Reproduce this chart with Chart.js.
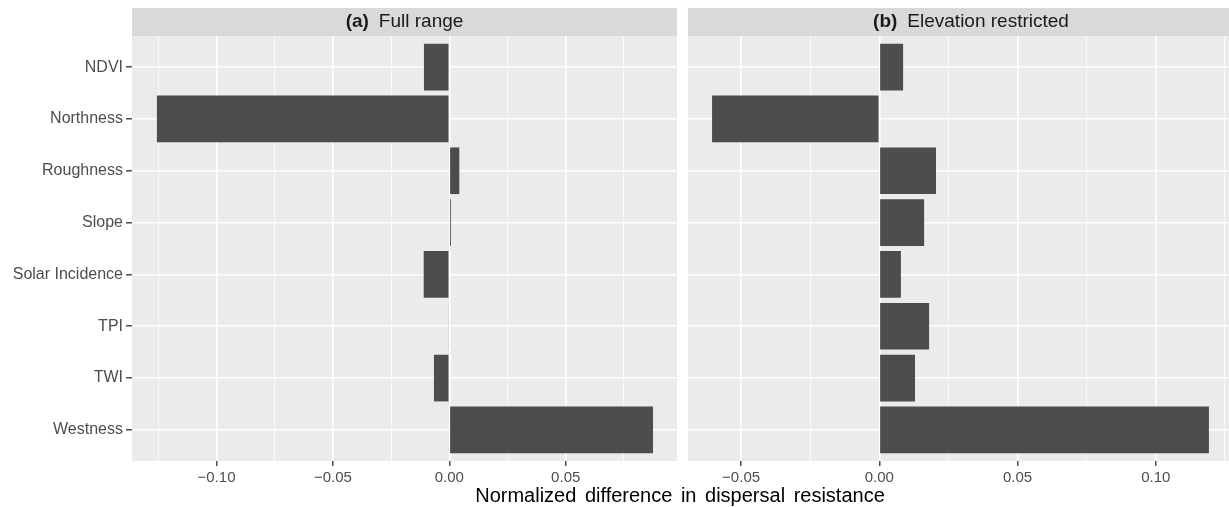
<!DOCTYPE html>
<html>
<head>
<meta charset="utf-8">
<script src="https://cdn.jsdelivr.net/npm/chart.js@4.4.0/dist/chart.umd.min.js"></script>
<style>
  html, body { margin: 0; padding: 0; background: #fff; overflow: hidden; }
  #wrap { position: relative; width: 1229px; height: 507px; overflow: hidden; }
  canvas { position: absolute; top: 0; }
  #xtitle {
    position: absolute; left: 0; width: 1360px; top: 484px; text-align: center;
    font: 20px "Liberation Sans", Arial, sans-serif; color: #000; word-spacing: 3px;
  }
</style>
</head>
<body>
<div id="wrap">
  <canvas id="left" width="680" height="507" style="left:0"></canvas>
  <canvas id="right" width="580" height="507" style="left:680px"></canvas>
  <div id="xtitle">Normalized difference in dispersal resistance</div>
</div>
<script>
// categories, top to bottom
const categories = ['NDVI', 'Northness', 'Roughness', 'Slope', 'Solar Incidence', 'TPI', 'TWI', 'Westness'];

// panel (a) Full range
const fullRange = [-0.0109, -0.1256, 0.0043, 0.0007, -0.0110, -0.0003, -0.0066, 0.0875];
// panel (b) Elevation restricted
const elevRestricted = [0.0086, -0.0605, 0.0205, 0.0162, 0.0078, 0.0180, 0.0129, 0.1192];

// x ticks (major get a label, minor only a grid line)
const majorTicksA = [-0.10, -0.05, 0.00, 0.05];
const minorTicksA = [-0.125, -0.075, -0.025, 0.025, 0.075];
const majorTicksB = [-0.05, 0.00, 0.05, 0.10];
const minorTicksB = [-0.025, 0.025, 0.075, 0.125];

const FONT = '"Liberation Sans", Arial, sans-serif';

function fmt(v) {
  return (v < 0 ? '\u2212' : '') + Math.abs(v).toFixed(2);
}

// grey panel + strip header
const ggPanel = {
  id: 'ggPanel',
  beforeDraw(chart, args, opts) {
    const { ctx, chartArea: a } = chart;
    ctx.save();
    ctx.fillStyle = '#ebebeb';
    ctx.fillRect(a.left, a.top, a.right - a.left, a.bottom - a.top);
    ctx.fillStyle = '#d9d9d9';
    ctx.fillRect(a.left, 8, a.right - a.left, 28);
    ctx.fillStyle = '#1a1a1a';
    ctx.textBaseline = 'middle';
    ctx.font = 'bold 19px ' + FONT;
    const w1 = ctx.measureText(opts.tag).width;
    ctx.font = '19px ' + FONT;
    const gap = 10;
    const w2 = ctx.measureText(opts.label).width;
    let x = (a.left + a.right) / 2 - (w1 + gap + w2) / 2;
    ctx.textAlign = 'left';
    ctx.font = 'bold 19px ' + FONT;
    ctx.fillText(opts.tag, x, 22);
    ctx.font = '19px ' + FONT;
    ctx.fillText(opts.label, x + w1 + gap, 22);
    ctx.restore();
  }
};

function makeChart(id, values, minX, maxX, majors, minors, tag, label, showY) {
  const allTicks = majors.concat(minors).sort((p, q) => p - q);
  const isMajor = v => majors.some(m => Math.abs(m - v) < 1e-9);
  return new Chart(document.getElementById(id), {
    type: 'bar',
    data: {
      datasets: [{
        data: values.map((v, i) => ({ x: v, y: i })),
        backgroundColor: '#4d4d4d',
        borderWidth: 0,
        barPercentage: 0.9,
        categoryPercentage: 1.0
      }]
    },
    options: {
      indexAxis: 'y',
      responsive: false,
      animation: false,
      events: [],
      layout: { padding: { top: 36, left: showY ? 0 : 8, right: showY ? 3 : 6, bottom: 0 } },
      plugins: {
        legend: { display: false },
        tooltip: { enabled: false },
        ggPanel: { tag: tag, label: label }
      },
      scales: {
        x: {
          type: 'linear',
          min: minX,
          max: maxX,
          afterBuildTicks: s => { s.ticks = allTicks.map(v => ({ value: v })); },
          afterFit: s => { s.height = 46; },
          border: { display: false },
          grid: {
            color: '#ffffff',
            lineWidth: c => (c.tick && isMajor(c.tick.value)) ? 1.6 : 0.7,
            tickColor: c => (c.tick && isMajor(c.tick.value)) ? '#333333' : 'rgba(0,0,0,0)',
            tickLength: 5,
            tickWidth: 1.3
          },
          ticks: {
            autoSkip: false,
            maxRotation: 0,
            padding: 3,
            color: '#4d4d4d',
            font: { family: FONT, size: 15 },
            callback: v => isMajor(v) ? fmt(v) : ''
          }
        },
        y: {
          type: 'linear',
          reverse: true,
          offset: false,
          min: -0.6,
          max: categories.length - 1 + 0.6,
          afterBuildTicks: s => { s.ticks = categories.map((c, i) => ({ value: i })); },
          afterFit: s => { s.width = showY ? 132 : 0; },
          border: { display: false },
          grid: {
            offset: false,
            color: '#ffffff',
            lineWidth: 1.6,
            drawTicks: showY,
            tickLength: 6,
            tickColor: '#333333',
            tickWidth: 1.3
          },
          ticks: {
            display: showY,
            autoSkip: false,
            padding: 3,
            color: '#4d4d4d',
            font: { family: FONT, size: 16 },
            callback: v => categories[v]
          }
        }
      }
    },
    plugins: [ggPanel]
  });
}

makeChart('left', fullRange, -0.1363, 0.0978, majorTicksA, minorTicksA, '(a)', 'Full range', true);
makeChart('right', elevRestricted, -0.0692, 0.1355, majorTicksB, minorTicksB, '(b)', 'Elevation restricted', false);
</script>
</body>
</html>
